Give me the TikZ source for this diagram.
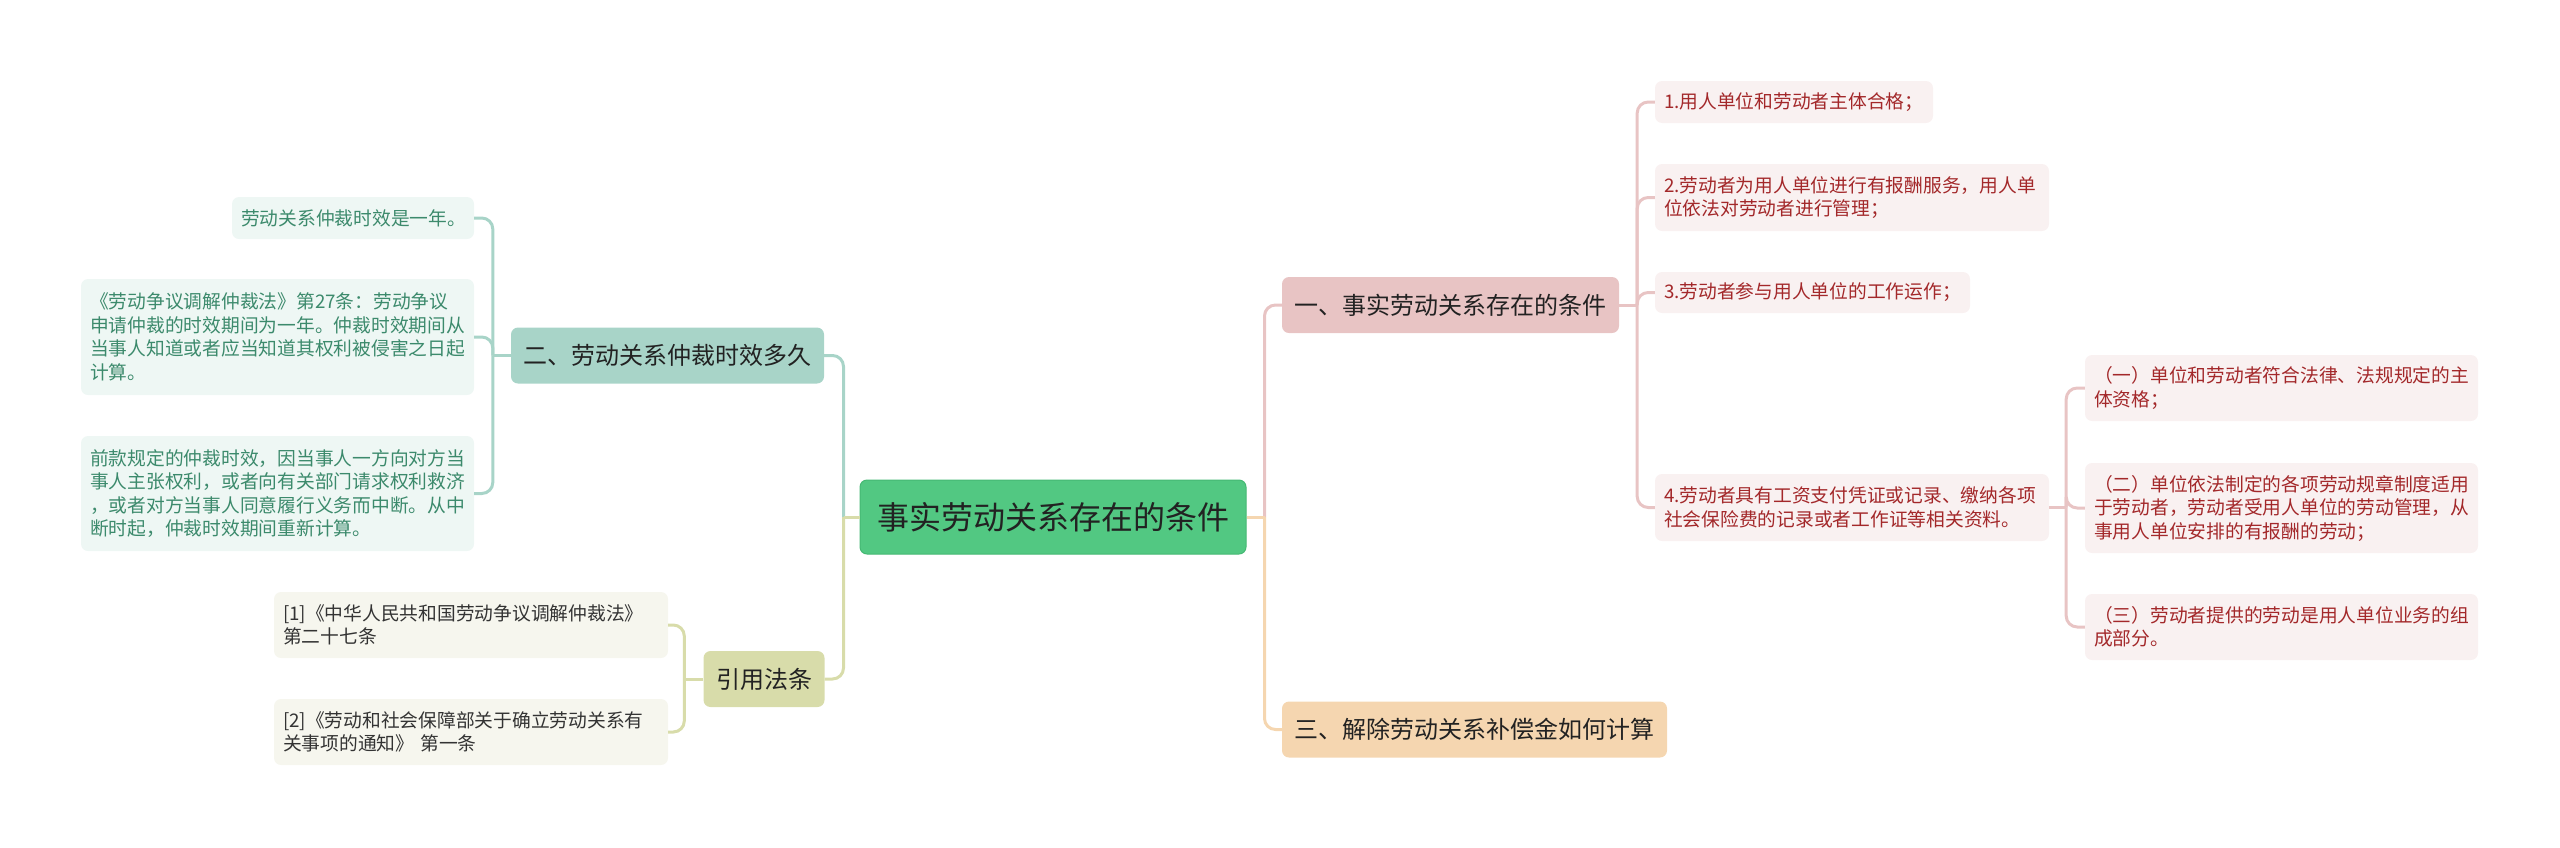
\documentclass[tikz,border=0pt]{standalone}
\usepackage{fontspec}
\setmainfont{Noto Sans CJK SC}
\definecolor{mainfill}{HTML}{52C882}
\definecolor{mainborder}{HTML}{45B873}
\definecolor{darktext}{HTML}{222222}
\definecolor{tealc}{HTML}{A8D4C8}
\definecolor{tealleaf}{HTML}{EEF7F4}
\definecolor{tealtext}{HTML}{3C8A6C}
\definecolor{olivec}{HTML}{D8DCAA}
\definecolor{oliveleaf}{HTML}{F6F6EE}
\definecolor{olivetext}{HTML}{333333}
\definecolor{pinkc}{HTML}{E8C4C4}
\definecolor{pinkleaf}{HTML}{F9F1F1}
\definecolor{pinktext}{HTML}{A3282A}
\definecolor{orangec}{HTML}{F5D6B0}
\tikzset{
  box/.style={rectangle, rounded corners=7pt, inner ysep=0pt, anchor=center, align=left},
  mainbox/.style={box, fill=mainfill, draw=mainborder, line width=1pt, text=darktext,
    font=\fontsize{32}{38}\selectfont, inner xsep=17pt, minimum height=74pt},
  lvone/.style={box, text=darktext, font=\fontsize{24}{29}\selectfont,
    inner xsep=12.5pt, minimum height=56pt},
  leaf/.style={box, font=\fontsize{18.75}{23.5}\selectfont, inner xsep=9pt},
  tealleafbox/.style={leaf, fill=tealleaf, text=tealtext},
  oliveleafbox/.style={leaf, fill=oliveleaf, text=olivetext},
  pinkleafbox/.style={leaf, fill=pinkleaf, text=pinktext},
  conn/.style={line width=3pt, rounded corners=11pt}
}
\begin{document}
\begin{tikzpicture}[x=1pt,y=-1pt]
\useasboundingbox (0,0) rectangle (2560,847);
% main
\node[mainbox] (main) at (1053,517) {事实劳动关系存在的条件};
% left branch 1
\node[lvone, fill=tealc] (n2) at (667.5,355.5) {二、劳动关系仲裁时效多久};
\node[tealleafbox, text width=224pt, minimum height=42pt] (l1) at (353,218) {劳动关系仲裁时效是一年。};
\node[tealleafbox, text width=375pt, minimum height=116pt] (l2) at (277.5,337) {《劳动争议调解仲裁法》第27条：劳动争议\\申请仲裁的时效期间为一年。仲裁时效期间从\\当事人知道或者应当知道其权利被侵害之日起\\计算。};
\node[tealleafbox, text width=375pt, minimum height=115pt] (l3) at (277.5,493.5) {前款规定的仲裁时效，因当事人一方向对方当\\事人主张权利，或者向有关部门请求权利救济\\，或者对方当事人同意履行义务而中断。从中\\断时起，仲裁时效期间重新计算。};
% left branch 2
\node[lvone, fill=olivec] (ref) at (764,679) {引用法条};
\node[oliveleafbox, text width=376pt, minimum height=66pt] (r1) at (471,625) {[1]《中华人民共和国劳动争议调解仲裁法》\\第二十七条};
\node[oliveleafbox, text width=376pt, minimum height=66pt] (r2) at (471,732) {[2]《劳动和社会保障部关于确立劳动关系有\\关事项的通知》 第一条};
% right branch 1
\node[lvone, fill=pinkc] (n1) at (1450.5,305) {一、事实劳动关系存在的条件};
\node[pinkleafbox, text width=260pt, minimum height=42pt] (c1) at (1794,102) {1.用人单位和劳动者主体合格；};
\node[pinkleafbox, text width=376pt, minimum height=67pt] (c2) at (1852,197.5) {2.劳动者为用人单位进行有报酬服务，用人单\\位依法对劳动者进行管理；};
\node[pinkleafbox, text width=297pt, minimum height=41pt] (c3) at (1812.5,292.5) {3.劳动者参与用人单位的工作运作；};
\node[pinkleafbox, text width=376pt, minimum height=67pt] (c4) at (1852,507.5) {4.劳动者具有工资支付凭证或记录、缴纳各项\\社会保险费的记录或者工作证等相关资料。};
\node[pinkleafbox, text width=375pt, minimum height=66pt] (d1) at (2281.5,388) {（一）单位和劳动者符合法律、法规规定的主\\体资格；};
\node[pinkleafbox, text width=375pt, minimum height=90pt] (d2) at (2281.5,508) {（二）单位依法制定的各项劳动规章制度适用\\于劳动者，劳动者受用人单位的劳动管理，从\\事用人单位安排的有报酬的劳动；};
\node[pinkleafbox, text width=375pt, minimum height=66pt] (d3) at (2281.5,627) {（三）劳动者提供的劳动是用人单位业务的组\\成部分。};
% right branch 2
\node[lvone, fill=orangec] (n3) at (1474.5,729.5) {三、解除劳动关系补偿金如何计算};
% junctions
\coordinate (jL) at ([xshift=-16pt]main.west);
\coordinate (jR) at ([xshift=18pt]main.east);
\coordinate (j2) at ([xshift=-18pt]n2.west);
\coordinate (jref) at ([xshift=-19pt]ref.west);
\coordinate (j1) at ([xshift=18pt]n1.east);
\coordinate (j4) at ([xshift=17pt]c4.east);
% connectors
\draw[conn, tealc] (main.west) -- (jL);
\draw[conn, tealc] (jL) |- (n2.east);
\draw[conn, olivec] (main.west) -- (jL);
\draw[conn, olivec] (jL) |- (ref.east);
\draw[conn, tealc] (n2.west) -- (j2);
\draw[conn, tealc] (j2) |- (l1.east);
\draw[conn, tealc] (j2) |- (l2.east);
\draw[conn, tealc] (j2) |- (l3.east);
\draw[conn, olivec] (ref.west) -- (jref);
\draw[conn, olivec] (jref) |- (r1.east);
\draw[conn, olivec] (jref) |- (r2.east);
\draw[conn, pinkc] (main.east) -- (jR);
\draw[conn, pinkc] (jR) |- (n1.west);
\draw[conn, orangec] (main.east) -- (jR);
\draw[conn, orangec] (jR) |- (n3.west);
\draw[conn, pinkc] (n1.east) -- (j1);
\draw[conn, pinkc] (j1) |- (c1.west);
\draw[conn, pinkc] (j1) |- (c2.west);
\draw[conn, pinkc] (j1) |- (c3.west);
\draw[conn, pinkc] (j1) |- (c4.west);
\draw[conn, pinkc] (c4.east) -- (j4);
\draw[conn, pinkc] (j4) |- (d1.west);
\draw[conn, pinkc] (j4) |- (d2.west);
\draw[conn, pinkc] (j4) |- (d3.west);
\end{tikzpicture}
\end{document}
